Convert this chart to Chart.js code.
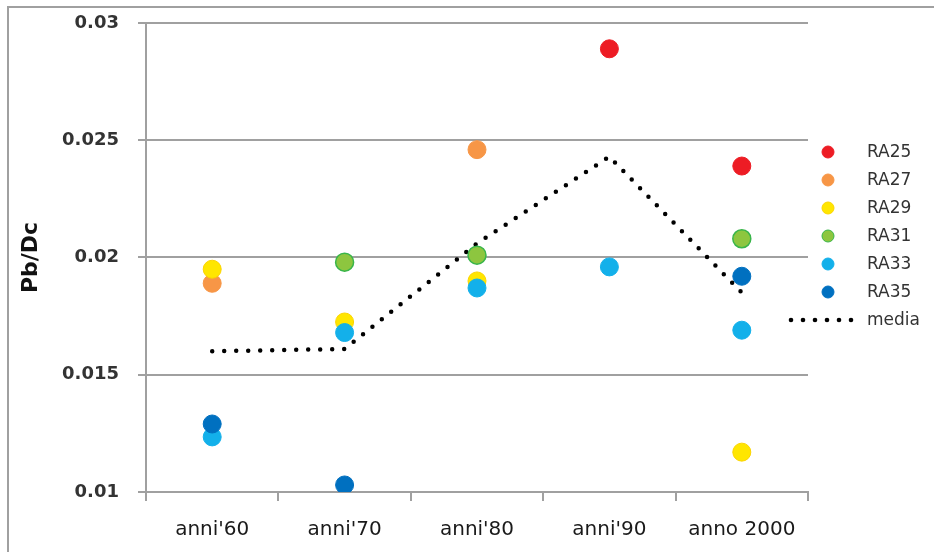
<!DOCTYPE html>
<html>
<head>
<meta charset="utf-8">
<script src="https://cdn.jsdelivr.net/npm/chart.js@4"></script>
<style>
  html, body { margin: 0; padding: 0; background: #fff; }
  #wrap { width: 934px; height: 552px; position: relative; }
</style>
</head>
<body>
<div id="wrap"><canvas id="chart"></canvas></div>
<script>
const categories = ["anni'60", "anni'70", "anni'80", "anni'90", "anno 2000"];

const ra25 = [null, null, null, 0.0289, 0.0239];
const ra27 = [0.0189, null, 0.0246, null, null];
const ra29 = [0.0195, 0.01725, 0.0190, null, 0.0117];
const ra31 = [null, 0.0198, 0.0201, null, 0.0208];
const ra33 = [0.01235, 0.0168, 0.0187, 0.0196, 0.0169];
const ra35 = [0.0129, 0.0103, null, null, 0.0192];
const media = [0.0160, 0.0161, 0.0206, 0.0243, 0.0185];

const yTickValues = [0.01, 0.015, 0.02, 0.025, 0.03];
const yTickLabels = ['0.01', '0.015', '0.02', '0.025', '0.03'];

const series = [
    { label: 'RA25', data: ra25, fill: '#ed1c24', border: '#ed1c24' },
    { label: 'RA27', data: ra27, fill: '#f79646', border: '#f79646' },
    { label: 'RA29', data: ra29, fill: '#ffe600', border: '#fbd400' },
    { label: 'RA31', data: ra31, fill: '#8dc63f', border: '#39b54a' },
    { label: 'RA33', data: ra33, fill: '#13b0ea', border: '#13b0ea' },
    { label: 'RA35', data: ra35, fill: '#0070c0', border: '#0070c0' }
];

const GRID = '#a0a0a0';
const FONT = '"DejaVu Sans", sans-serif';

const datasets = series.map((s, i) => ({
    label: s.label,
    data: s.data,
    showLine: false,
    pointRadius: 9,
    pointHoverRadius: 9,
    backgroundColor: s.fill,
    borderColor: s.border,
    pointBorderWidth: s.label === 'RA31' ? 1.5 : 1,
    order: 20 - i
}));

datasets.push({
    label: 'media',
    data: media,
    borderColor: '#000',
    borderWidth: 4.5,
    borderDash: [0, 12],
    borderCapStyle: 'round',
    pointRadius: 0,
    fill: false,
    tension: 0,
    order: 100
});

// frame (left + top edge) and custom legend on the right
const framePlugin = {
    id: 'frame',
    beforeDraw(chart) {
        const c = chart.ctx;
        c.save();
        c.strokeStyle = GRID;
        c.lineWidth = 2;
        c.beginPath();
        c.moveTo(8, 552);
        c.lineTo(8, 7);
        c.lineTo(934, 7);
        c.stroke();
        c.restore();
    },
    afterDraw(chart) {
        const c = chart.ctx;
        c.save();
        c.font = '17px ' + FONT;
        c.textBaseline = 'middle';
        const rows = [152, 180, 208, 236, 264, 292, 320];
        chart.data.datasets.forEach((ds, i) => {
            const y = rows[i];
            if (ds.label === 'media') {
                c.fillStyle = '#000';
                for (let x = 791; x <= 852; x += 12) {
                    c.beginPath();
                    c.arc(x, y, 2.3, 0, Math.PI * 2);
                    c.fill();
                }
            } else {
                c.beginPath();
                c.arc(828, y, 6, 0, Math.PI * 2);
                c.fillStyle = ds.backgroundColor;
                c.fill();
                c.lineWidth = 1;
                c.strokeStyle = ds.borderColor;
                c.stroke();
            }
            c.fillStyle = '#333';
            c.fillText(ds.label, 867, y + 1);
        });
        c.restore();
    }
};

const ctx = document.getElementById('chart').getContext('2d');
new Chart(ctx, {
    type: 'line',
    data: { labels: categories, datasets: datasets },
    plugins: [framePlugin],
    options: {
        responsive: true,
        maintainAspectRatio: false,
        animation: false,
        layout: { padding: { left: 16, top: 23, right: 126, bottom: 0 } },
        plugins: {
            legend: { display: false },
            tooltip: { enabled: false }
        },
        scales: {
            x: {
                offset: true,
                afterFit(scale) {
                    scale.height = 60;
                    scale.paddingLeft = 0;
                    scale.paddingRight = 0;
                },
                grid: {
                    offset: true,
                    drawOnChartArea: false,
                    drawTicks: true,
                    tickLength: 9,
                    color: GRID,
                    lineWidth: 2
                },
                border: { color: GRID, width: 2 },
                ticks: {
                    padding: 17,
                    color: '#1a1a1a',
                    font: { family: FONT, size: 20 }
                }
            },
            y: {
                min: 0.01,
                max: 0.03,
                afterFit(scale) {
                    scale.width = 130;
                    scale.paddingTop = 0;
                    scale.paddingBottom = 0;
                },
                afterBuildTicks(scale) {
                    scale.ticks = yTickValues.map(v => ({ value: v }));
                },
                grid: {
                    color: GRID,
                    lineWidth: 2,
                    tickLength: 8
                },
                border: { color: GRID, width: 2 },
                ticks: {
                    padding: 19,
                    color: '#333',
                    font: { family: FONT, size: 18, weight: 'bold' },
                    callback: (v, i) => yTickLabels[i]
                },
                title: {
                    display: true,
                    text: 'Pb/Dc',
                    color: '#111',
                    padding: { top: 2, bottom: 0 },
                    font: { family: FONT, size: 22, weight: 'bold' }
                }
            }
        }
    }
});
</script>
</body>
</html>
